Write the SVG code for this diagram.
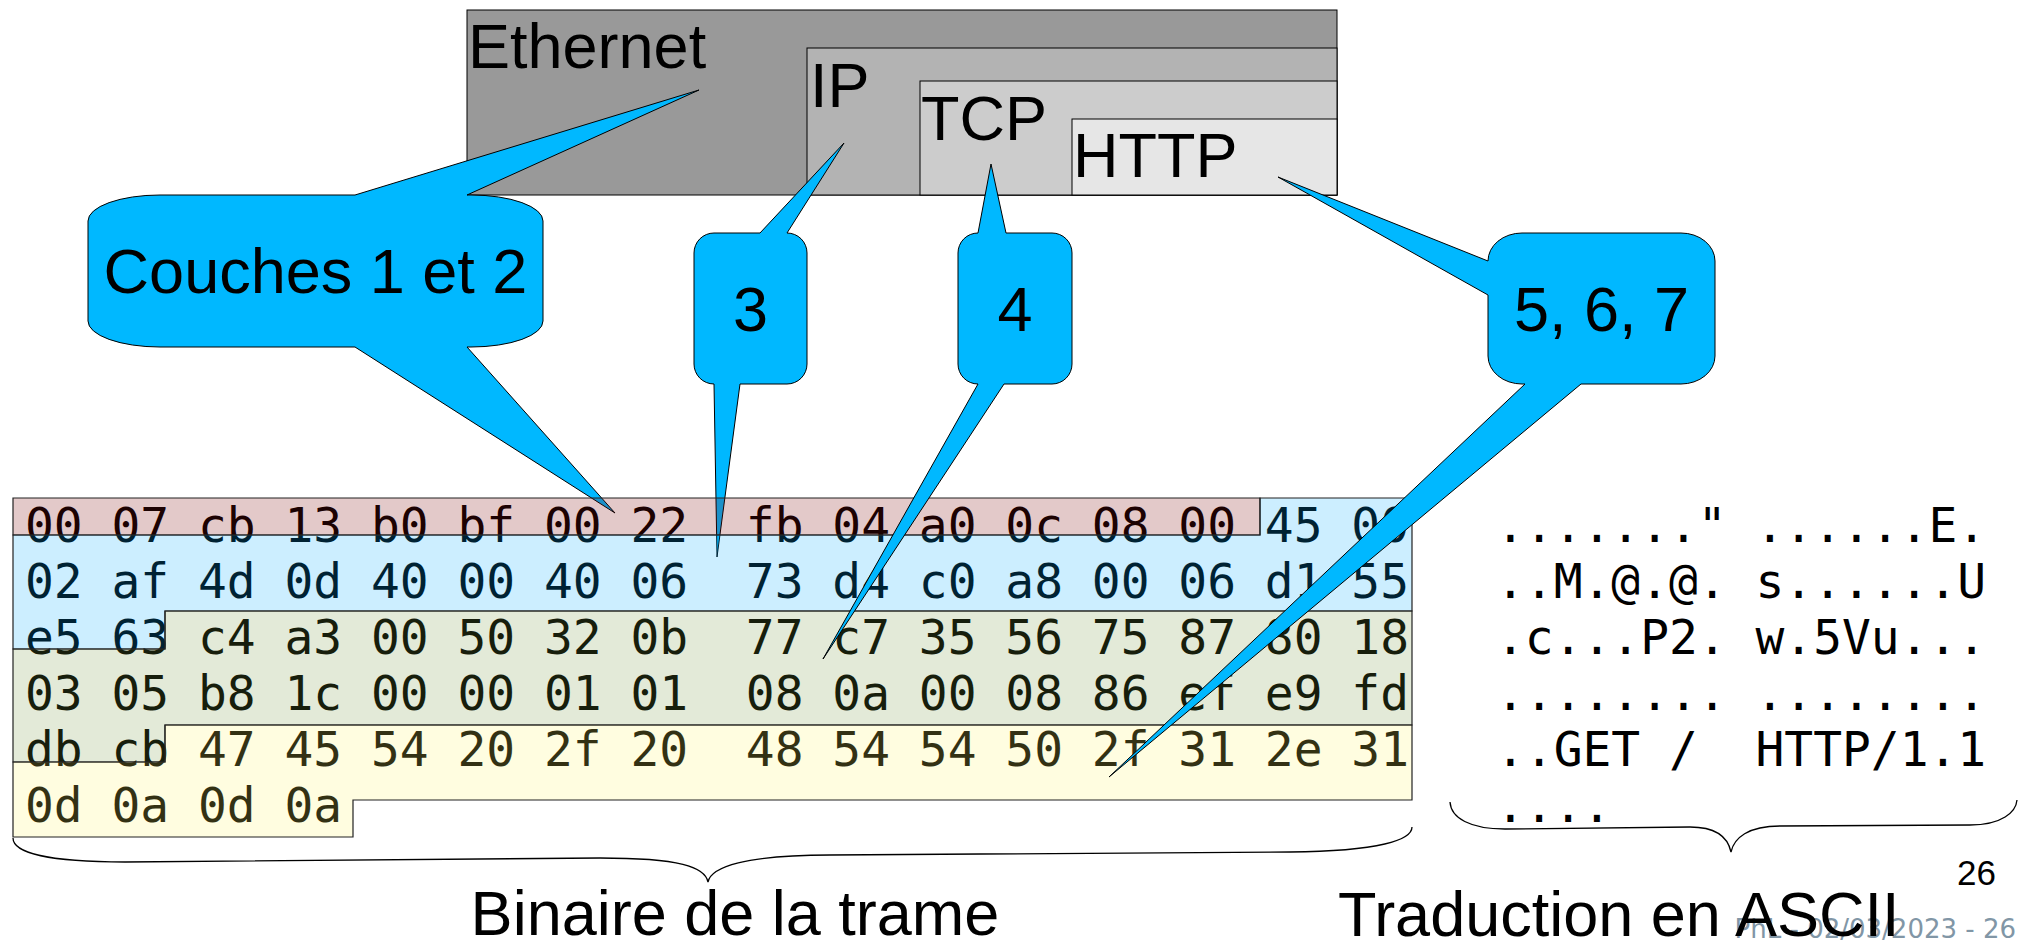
<svg xmlns="http://www.w3.org/2000/svg" width="2022" height="941" viewBox="0 0 2022 941">
  <style>
    .lbl { font-family: "Liberation Sans", Arial, sans-serif; font-size: 63px; fill: #000; }
    .hex { font-family: "DejaVu Sans Mono", monospace; font-size: 47.9px; fill: #000; white-space: pre; }
    .layer { stroke: #000; stroke-width: 1; }
    .band { stroke: #222; stroke-width: 1.2; }
    .callout { fill: #00b8ff; stroke: #000; stroke-width: 1; stroke-linejoin: miter; }
    .brace { fill: none; stroke: #000; stroke-width: 1.3; }
  </style>

  <!-- protocol encapsulation boxes -->
  <g id="ethernet">
    <rect class="layer" x="467" y="10" width="870" height="185" fill="#999999"/>
    <text class="lbl" x="468" y="68">Ethernet</text>
  </g>
  <g id="ip">
    <rect class="layer" x="807" y="48" width="530" height="147" fill="#b3b3b3"/>
    <text class="lbl" x="810" y="107">IP</text>
  </g>
  <g id="tcp">
    <rect class="layer" x="920" y="81" width="417" height="114" fill="#cccccc"/>
    <text class="lbl" x="921" y="140">TCP</text>
  </g>
  <g id="http">
    <rect class="layer" x="1072" y="119" width="265" height="76" fill="#e6e6e6"/>
    <text class="lbl" x="1073" y="177">HTTP</text>
  </g>

  <!-- raw frame bytes -->
  <g id="hex-dump">
    <text class="hex" xml:space="preserve" x="25" y="542">00 07 cb 13 b0 bf 00 22  fb 04 a0 0c 08 00 45 00</text>
    <text class="hex" xml:space="preserve" x="25" y="598">02 af 4d 0d 40 00 40 06  73 d4 c0 a8 00 06 d1 55</text>
    <text class="hex" xml:space="preserve" x="25" y="654">e5 63 c4 a3 00 50 32 0b  77 c7 35 56 75 87 80 18</text>
    <text class="hex" xml:space="preserve" x="25" y="710">03 05 b8 1c 00 00 01 01  08 0a 00 08 86 ef e9 fd</text>
    <text class="hex" xml:space="preserve" x="25" y="766">db cb 47 45 54 20 2f 20  48 54 54 50 2f 31 2e 31</text>
    <text class="hex" xml:space="preserve" x="25" y="822">0d 0a 0d 0a</text>
  </g>

  <!-- callouts drawn beneath the byte highlights -->
  <g id="callout-couches">
    <path class="callout" d="M88,221 A72,26 0 0 1 160,195 L355,195 L699,90 L467,195 L471,195 A72,26 0 0 1 543,221 L543,321 A72,26 0 0 1 471,347 L467,347 L615,513 L355,347 L160,347 A72,26 0 0 1 88,321 Z"/>
    <text class="lbl" x="315.5" y="293" text-anchor="middle">Couches 1 et 2</text>
  </g>
  <g id="callout-3">
    <path class="callout" d="M694,253 A20,20 0 0 1 714,233 L760,233 L844,143 L787,233 A20,20 0 0 1 807,253 L807,364 A20,20 0 0 1 787,384 L740,384 L717,557 L714,384 A20,20 0 0 1 694,364 Z"/>
    <text class="lbl" x="750.5" y="331" text-anchor="middle">3</text>
  </g>

  <!-- byte ranges per layer (translucent highlights) -->
  <g id="byte-ranges">
    <polygon class="band" fill="#800a0a" fill-opacity="0.22" points="13,498 1260,498 1260,535 13,535"/>
    <polygon class="band" fill="#00aaff" fill-opacity="0.2" points="1260,498 1412,498 1412,611 165,611 165,649 13,649 13,535 1260,535"/>
    <polygon class="band" fill="#73963c" fill-opacity="0.2" points="13,649 165,649 165,611 1412,611 1412,725 165,725 165,762 13,762"/>
    <polygon class="band" fill="#fff564" fill-opacity="0.2" points="13,762 165,762 165,725 1412,725 1412,800 353,800 353,837 13,837"/>
  </g>

  <!-- callouts drawn above the byte highlights -->
  <g id="callout-4">
    <path class="callout" d="M958,253 A20,20 0 0 1 978,233 L991,164 L1006,233 L1052,233 A20,20 0 0 1 1072,253 L1072,364 A20,20 0 0 1 1052,384 L1004,384 L823,659 L978,384 A20,20 0 0 1 958,364 Z"/>
    <text class="lbl" x="1015" y="331" text-anchor="middle">4</text>
  </g>
  <g id="callout-567">
    <path class="callout" d="M1488,261 A34,28 0 0 1 1522,233 L1681,233 A34,28 0 0 1 1715,261 L1715,356 A34,28 0 0 1 1681,384 L1581,384 L1109,777 L1525,384 L1522,384 A34,28 0 0 1 1488,356 L1488,295 L1278,177 Z"/>
    <text class="lbl" x="1601.5" y="331" text-anchor="middle">5, 6, 7</text>
  </g>

  <!-- ASCII rendering of the same bytes -->
  <g id="ascii-dump">
    <text class="hex" xml:space="preserve" x="1496" y="542">......." ......E.</text>
    <text class="hex" xml:space="preserve" x="1496" y="598">..M.@.@. s......U</text>
    <text class="hex" xml:space="preserve" x="1496" y="654">.c...P2. w.5Vu...</text>
    <text class="hex" xml:space="preserve" x="1496" y="710">........ ........</text>
    <text class="hex" xml:space="preserve" x="1496" y="766">..GET /  HTTP/1.1</text>
    <text class="hex" xml:space="preserve" x="1496" y="822">....</text>
  </g>

  <!-- braces under the two dumps -->
  <g id="connectors">
    <path class="brace" d="M13,838 C13,852 45,862 125,862 L600,858 C680,858 705,867 708,882 C711,867 745,855 830,855 L1290,852 C1380,851 1412,840 1412,827"/>
    <path class="brace" d="M1450,802 C1451,818 1470,829 1505,829 L1690,827 C1718,827 1728,838 1731,852 C1734,838 1748,826 1780,826 L1970,825 C2002,825 2016,812 2017,800"/>
  </g>

  <g id="captions">
    <text x="2016" y="938" text-anchor="end" font-family="DejaVu Sans, sans-serif" font-size="26" fill="#8196a6">PhL - 02/03/2023 - 26</text>
    <text class="lbl" x="735" y="935" text-anchor="middle">Binaire de la trame</text>
    <text class="lbl" x="1338" y="936">Traduction en ASCII</text>
    <text x="1957" y="885" font-family="Liberation Sans, Arial, sans-serif" font-size="35" fill="#000">26</text>
  </g>
</svg>
